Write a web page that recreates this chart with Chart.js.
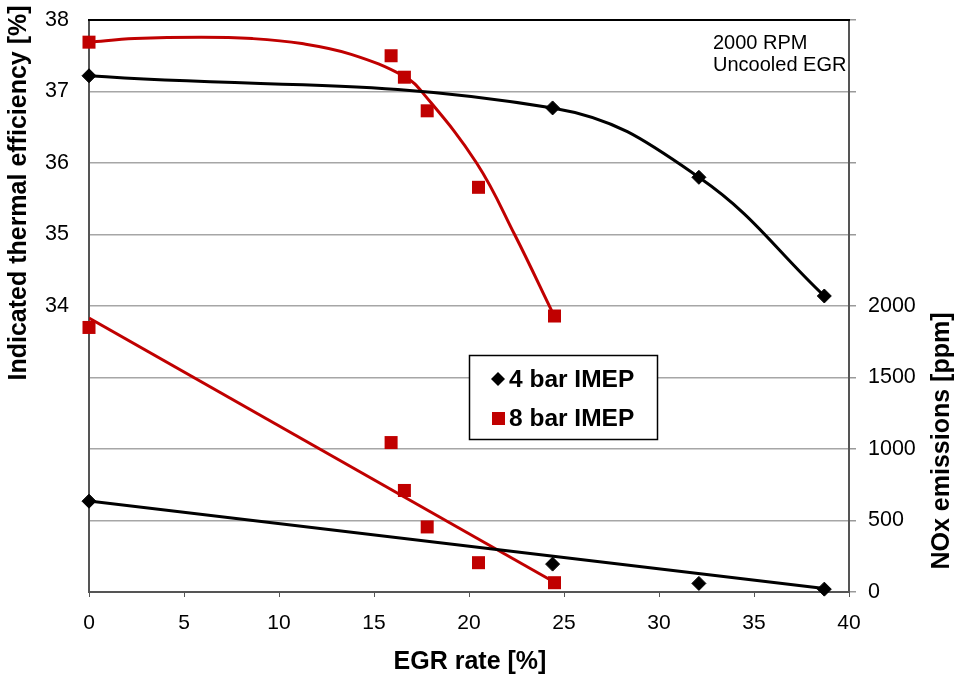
<!DOCTYPE html>
<html>
<head>
<meta charset="utf-8">
<script src="https://cdn.jsdelivr.net/npm/chart.js@4.4.1/dist/chart.umd.min.js"></script>
<style>
  html, body { margin: 0; padding: 0; background: #fff; }
  canvas { display: block; }
</style>
</head>
<body>
<canvas id="egrChart" width="955" height="678"></canvas>
<script>
// values
const egr4 = [0, 24.4, 32.1, 38.7];
const eff4 = [37.22, 36.77, 35.8, 34.14];
const nox4 = [635, 195, 60, 20];

const egr8 = [0, 15.9, 16.6, 17.8, 20.5, 24.5];
const eff8 = [37.69, 37.5, 37.2, 36.73, 35.66, 33.86];
const nox8 = [1850, 1045, 710, 455, 205, 65];

// trend lines as traced on the picture
const eff8TrendX = [0, 2.4, 5.9, 8.6, 11.2, 13.8, 16.6, 17.6, 20.4, 22.4, 24.45];
const eff8TrendY = [37.69, 37.74, 37.76, 37.74, 37.67, 37.52, 37.21, 36.97, 36.0, 35.0, 33.88];
const nox4TrendX = [0, 38.7];
const nox4TrendY = [636, 25];
const nox8TrendX = [0, 24.5];
const nox8TrendY = [1916, 68];

const xTicks = [0, 5, 10, 15, 20, 25, 30, 35, 40];
const leftLabels = [34, 35, 36, 37, 38];
const rightLabels = [0, 500, 1000, 1500, 2000];
const legendNames = ['4 bar IMEP', '8 bar IMEP'];

const BLACK = '#000000';
const RED = '#c00000';
const FONT = '"Liberation Sans", Arial, sans-serif';

function pts(xs, ys) {
  return xs.map((x, i) => ({ x: x, y: ys[i] }));
}

Chart.defaults.font.family = FONT;
Chart.defaults.color = '#000';

// titles, note and legend box drawn at the places the picture has them
const extras = {
  id: 'extras',
  afterDatasetsDraw(chart) {
    const ctx = chart.ctx;
    const a = chart.chartArea;
    ctx.save();
    // top border of plot area
    ctx.strokeStyle = '#000';
    ctx.lineWidth = 2;
    ctx.beginPath();
    ctx.moveTo(a.left - 1, a.top);
    ctx.lineTo(a.right + 1, a.top);
    ctx.stroke();

    // legend box
    ctx.fillStyle = '#fff';
    ctx.fillRect(469, 355, 189, 85);
    ctx.strokeStyle = '#000';
    ctx.lineWidth = 1.5;
    ctx.strokeRect(469.5, 355.5, 188, 84);
    ctx.fillStyle = BLACK;
    ctx.beginPath();
    ctx.moveTo(498, 372); ctx.lineTo(505, 379); ctx.lineTo(498, 386); ctx.lineTo(491, 379);
    ctx.closePath();
    ctx.fill();
    ctx.fillStyle = RED;
    ctx.fillRect(492, 412, 13, 13);
    ctx.fillStyle = '#000';
    ctx.font = 'bold 24.5px ' + FONT;
    ctx.textAlign = 'left';
    ctx.textBaseline = 'middle';
    ctx.fillText(legendNames[0], 509, 380);
    ctx.fillText(legendNames[1], 509, 419);
    ctx.restore();
  },
  afterDraw(chart) {
    const ctx = chart.ctx;
    ctx.save();
    ctx.fillStyle = '#000';
    ctx.font = 'bold 25px ' + FONT;
    ctx.textAlign = 'center';
    ctx.textBaseline = 'middle';
    ctx.fillText('EGR rate [%]', 470, 662);

    ctx.save();
    ctx.translate(19, 193);
    ctx.rotate(-Math.PI / 2);
    ctx.fillText('Indicated thermal efficiency [%]', 0, 0);
    ctx.restore();

    ctx.save();
    ctx.translate(942, 441);
    ctx.rotate(-Math.PI / 2);
    ctx.fillText('NOx emissions [ppm]', 0, 0);
    ctx.restore();

    ctx.font = '20px ' + FONT;
    ctx.textAlign = 'left';
    ctx.fillText('2000 RPM', 713, 43);
    ctx.fillText('Uncooled EGR', 713, 65);
    ctx.restore();
  }
};

function fixHeight(h) {
  return function (scale) { scale.height = h; scale.paddingLeft = 0; scale.paddingRight = 0; };
}
function fixWidth(w) {
  return function (scale) { scale.width = w; scale.paddingTop = 0; scale.paddingBottom = 0; };
}

const ctx = document.getElementById('egrChart').getContext('2d');
new Chart(ctx, {
  type: 'line',
  data: {
    datasets: [
      {
        label: '4 bar IMEP',
        data: pts(egr4, eff4),
        yAxisID: 'y',
        borderColor: BLACK,
        backgroundColor: BLACK,
        borderWidth: 3,
        tension: 0.4,
        pointStyle: 'rectRot',
        pointRadius: 7,
        pointBorderWidth: 1,
        clip: false,
        order: 0
      },
      {
        label: '8 bar IMEP',
        data: pts(egr8, eff8),
        yAxisID: 'y',
        showLine: false,
        borderColor: RED,
        backgroundColor: RED,
        pointStyle: 'rect',
        pointRadius: 9.2,
        pointBorderWidth: 0,
        clip: false,
        order: 0
      },
      {
        label: '8 bar trend',
        data: pts(eff8TrendX, eff8TrendY),
        yAxisID: 'y',
        borderColor: RED,
        borderWidth: 3,
        pointRadius: 0,
        tension: 0.4,
        order: 1
      },
      {
        label: '4 bar NOx',
        data: pts(egr4, nox4),
        yAxisID: 'y2',
        showLine: false,
        borderColor: BLACK,
        backgroundColor: BLACK,
        pointStyle: 'rectRot',
        pointRadius: 7,
        pointBorderWidth: 1,
        clip: false,
        order: 0
      },
      {
        label: '4 bar NOx trend',
        data: pts(nox4TrendX, nox4TrendY),
        yAxisID: 'y2',
        borderColor: BLACK,
        borderWidth: 3,
        pointRadius: 0,
        order: 1
      },
      {
        label: '8 bar NOx',
        data: pts(egr8, nox8),
        yAxisID: 'y2',
        showLine: false,
        borderColor: RED,
        backgroundColor: RED,
        pointStyle: 'rect',
        pointRadius: 9.2,
        pointBorderWidth: 0,
        clip: false,
        order: 0
      },
      {
        label: '8 bar NOx trend',
        data: pts(nox8TrendX, nox8TrendY),
        yAxisID: 'y2',
        borderColor: RED,
        borderWidth: 3,
        pointRadius: 0,
        order: 1
      }
    ]
  },
  options: {
    responsive: false,
    animation: false,
    layout: { padding: { top: 20, left: 0, right: 0, bottom: 0 }, autoPadding: false },
    plugins: {
      legend: { display: false },
      tooltip: { enabled: false }
    },
    scales: {
      x: {
        type: 'linear',
        min: 0,
        max: 40,
        afterFit: fixHeight(86),
        afterBuildTicks(scale) { scale.ticks = xTicks.map(v => ({ value: v })); },
        border: { color: '#555', width: 2 },
        grid: { drawOnChartArea: false, drawTicks: true, tickLength: 5, color: '#555' },
        ticks: { font: { size: 21 }, padding: 14, maxRotation: 0 }
      },
      y: {
        position: 'left',
        min: 30,
        max: 38,
        afterFit: fixWidth(89),
        border: { color: '#555', width: 2 },
        grid: { color: '#a6a6a6', lineWidth: 1.5, drawTicks: false },
        ticks: {
          stepSize: 1,
          font: { size: 21.5 },
          padding: 20,
          callback: v => leftLabels.includes(v) ? String(v) : ''
        }
      },
      y2: {
        position: 'right',
        min: 0,
        max: 4000,
        afterFit: fixWidth(106),
        border: { color: '#555', width: 2 },
        grid: { drawOnChartArea: false, drawTicks: true, tickLength: 7, color: '#999', lineWidth: 1.5 },
        ticks: {
          stepSize: 500,
          font: { size: 21.5 },
          padding: 12,
          callback: v => rightLabels.includes(v) ? String(v) : ''
        }
      }
    }
  },
  plugins: [extras]
});
</script>
</body>
</html>
